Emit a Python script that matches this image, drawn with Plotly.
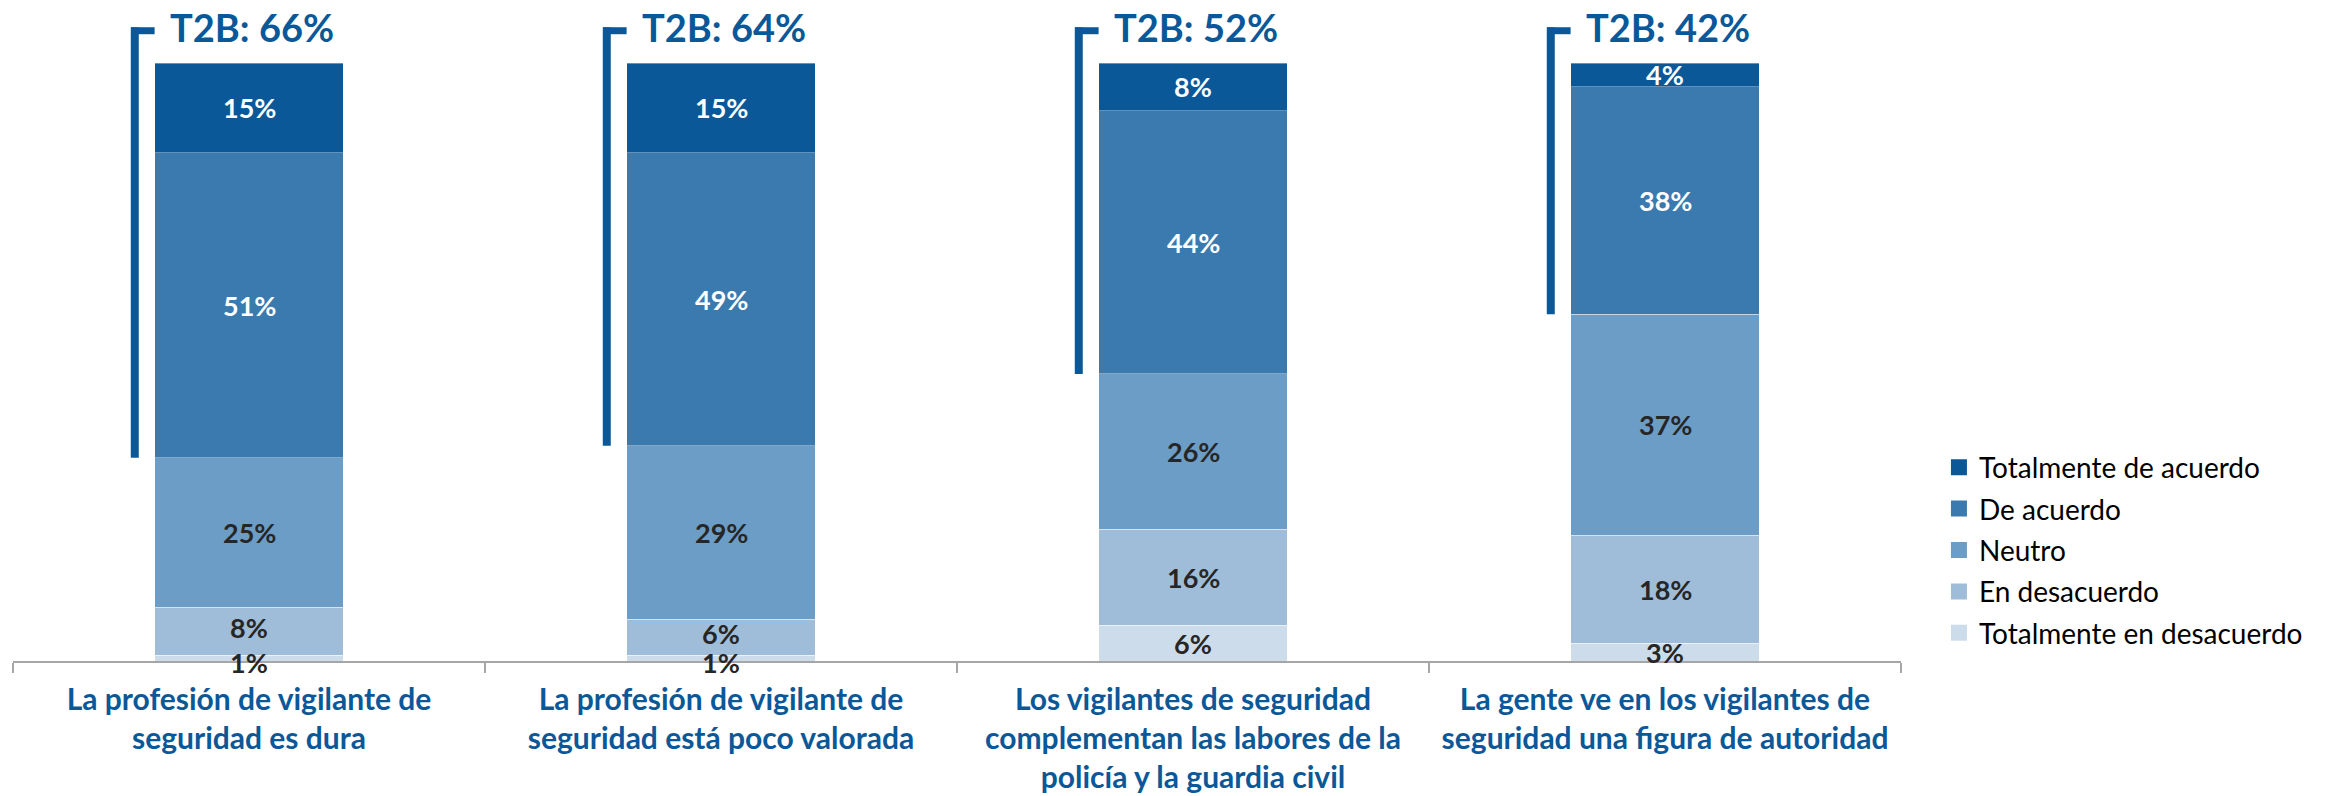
import plotly.graph_objects as go

categories = [
    'La profesión de vigilante de<br>seguridad es dura',
    'La profesión de vigilante de<br>seguridad está poco valorada',
    'Los vigilantes de seguridad<br>complementan las labores de la<br>policía y la guardia civil',
    'La gente ve en los vigilantes de<br>seguridad una figura de autoridad',
]

# bottom -> top of each stack
series_names = ['Totalmente en desacuerdo', 'En desacuerdo', 'Neutro',
                'De acuerdo', 'Totalmente de acuerdo']
tot_desacuerdo = [1, 1, 6, 3]
en_desacuerdo = [8, 6, 16, 18]
neutro = [25, 29, 26, 37]
de_acuerdo = [51, 49, 44, 38]
tot_acuerdo = [15, 15, 8, 4]

series_values = [tot_desacuerdo, en_desacuerdo, neutro, de_acuerdo, tot_acuerdo]
series_colors = ['#CCDCEB', '#9FBDD9', '#6C9DC6', '#3B7AAF', '#0B5899']
text_colors = ['#262626', '#262626', '#262626', 'white', 'white']

BLUE = '#0B5899'
FONT = 'Lato'

fig = go.Figure()

for name, vals, col in zip(series_names, series_values, series_colors):
    fig.add_trace(go.Bar(
        x=categories,
        y=vals,
        name=name,
        marker=dict(color=col, line=dict(color='rgba(255,255,255,0.35)', width=1)),
        showlegend=False,
        hoverinfo='skip',
    ))

# segment labels, at the middle of each segment
# very thin bottom segments: their label sits a bit lower and the one above a bit higher
for i, cat in enumerate(categories):
    base = 0
    thin = tot_desacuerdo[i] < 3
    for k, vals in enumerate(series_values):
        v = vals[i]
        shift = 0
        if thin and k == 0:
            shift = -4
        elif thin and k == 1:
            shift = 4
        fig.add_annotation(x=cat, y=base + v / 2, xref='x', yref='y',
                           text=f'<b>{v}%</b>', showarrow=False, yshift=shift,
                           font=dict(family=FONT, size=27, color=text_colors[k]))
        base += v

# legend entries (top first, like the original)
for name, col in reversed(list(zip(series_names, series_colors))):
    fig.add_trace(go.Scatter(
        x=[None], y=[None], mode='markers', name=name, legendgroup=name,
        marker=dict(symbol='square', size=16, color=col),
    ))

# T2B brackets: from above the bar down to the end of the top-two boxes
for i, cat in enumerate(categories):
    t2b = tot_acuerdo[i] + de_acuerdo[i]
    xb = i - 0.242
    fig.add_shape(type='line', xref='x', yref='y',
                  x0=xb, x1=xb, y0=100 - t2b, y1=106.0,
                  line=dict(color=BLUE, width=8))
    fig.add_shape(type='line', xref='x', yref='y',
                  x0=xb - 0.008, x1=i - 0.2, y0=105.4, y1=105.4,
                  line=dict(color=BLUE, width=7))
    fig.add_annotation(x=i - 0.172, y=106.0, xref='x', yref='y',
                       text=f'<b>T2B: {t2b}%</b>', showarrow=False,
                       xanchor='left', yanchor='middle',
                       font=dict(family=FONT, size=38, color=BLUE))

fig.update_layout(
    width=2331, height=796,
    margin=dict(l=13, r=430, t=12, b=135),
    plot_bgcolor='white', paper_bgcolor='white',
    barmode='stack',
    bargap=0.6,
    font=dict(family=FONT),
    legend=dict(
        x=1.0201, xanchor='left', y=0.171, yanchor='middle',
        font=dict(family=FONT, size=28, color='black'),
        traceorder='grouped', tracegroupgap=2,
        itemclick=False,
    ),
    xaxis=dict(
        type='category',
        range=[-0.5, 3.5],
        automargin=False,
        showline=True, linecolor='#A6A6A6', linewidth=1.5,
        ticks='outside', tickson='boundaries', ticklen=10, tickcolor='#A6A6A6',
        tickwidth=1.5,
        ticklabelstandoff=11,
        tickfont=dict(family=FONT, size=30, color=BLUE, weight='bold'),
        showgrid=False,
    ),
    yaxis=dict(
        range=[0, 108.53],
        visible=False,
        automargin=False,
        showgrid=False, zeroline=False,
    ),
)

# drop the default 8px body margin so the figure fills the window exactly
fig.write_html('out.html', config={'displayModeBar': False},
               post_script="document.body.style.margin = '0';")
